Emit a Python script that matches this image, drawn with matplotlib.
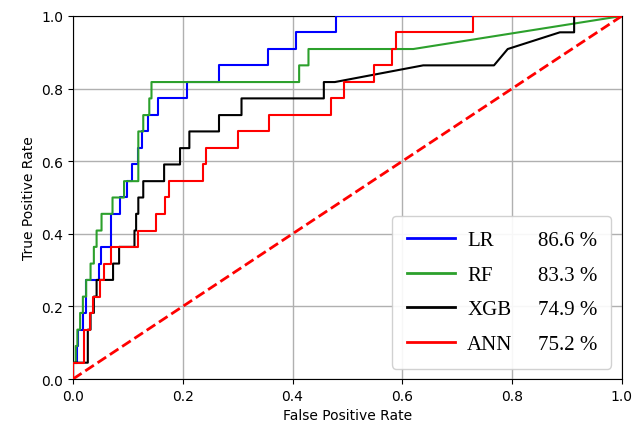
import matplotlib
matplotlib.use("Agg")
import matplotlib.pyplot as plt
from matplotlib.lines import Line2D

# ── ROC data ────────────────────────────────────────────────────────────────

models = ["LR", "RF", "XGB", "ANN"]
auc_labels = ["86.6 %", "83.3 %", "74.9 %", "75.2 %"]
colors = ["#0000ff", "#2ca02c", "#000000", "#ff0000"]

fpr_lr = [0, 0, 0.007, 0.007, 0.010, 0.010, 0.018, 0.018, 0.023, 0.023,
          0.048, 0.048, 0.051, 0.051, 0.070, 0.070, 0.086, 0.086, 0.098, 0.098,
          0.107, 0.107, 0.119, 0.119, 0.125, 0.125, 0.137, 0.137, 0.155, 0.155,
          0.208, 0.208, 0.266, 0.266, 0.356, 0.356, 0.406, 0.406, 0.480, 0.480, 1.0]
tpr_lr = [0, 0.045, 0.045, 0.091, 0.091, 0.136, 0.136, 0.182, 0.182, 0.273,
          0.273, 0.318, 0.318, 0.364, 0.364, 0.455, 0.455, 0.5, 0.5, 0.545,
          0.545, 0.591, 0.591, 0.636, 0.636, 0.682, 0.682, 0.727, 0.727, 0.773,
          0.773, 0.818, 0.818, 0.864, 0.864, 0.909, 0.909, 0.955, 0.955, 1.0, 1.0]

fpr_rf = [0, 0, 0.005, 0.005, 0.008, 0.008, 0.013, 0.013, 0.018, 0.018,
          0.024, 0.024, 0.032, 0.032, 0.038, 0.038, 0.043, 0.043, 0.052, 0.052,
          0.072, 0.072, 0.093, 0.093, 0.119, 0.119, 0.128, 0.128, 0.139, 0.139,
          0.143, 0.143, 0.412, 0.412, 0.429, 0.429, 0.620, 1.0]
tpr_rf = [0, 0.045, 0.045, 0.091, 0.091, 0.136, 0.136, 0.182, 0.182, 0.227,
          0.227, 0.273, 0.273, 0.318, 0.318, 0.364, 0.364, 0.409, 0.409, 0.455,
          0.455, 0.5, 0.5, 0.545, 0.545, 0.682, 0.682, 0.727, 0.727, 0.773,
          0.773, 0.818, 0.818, 0.864, 0.864, 0.909, 0.909, 1.0]

fpr_xgb = [0, 0, 0.027, 0.027, 0.032, 0.032, 0.038, 0.038, 0.043, 0.043,
           0.073, 0.073, 0.084, 0.084, 0.112, 0.112, 0.115, 0.115, 0.119, 0.119,
           0.128, 0.128, 0.166, 0.166, 0.195, 0.195, 0.212, 0.212, 0.266, 0.266,
           0.307, 0.307, 0.457, 0.457, 0.477, 0.638, 0.767, 0.792, 0.887, 0.913,
           0.913, 1.0]
tpr_xgb = [0, 0.045, 0.045, 0.136, 0.136, 0.182, 0.182, 0.227, 0.227, 0.273,
           0.273, 0.318, 0.318, 0.364, 0.364, 0.409, 0.409, 0.455, 0.455, 0.5,
           0.5, 0.545, 0.545, 0.591, 0.591, 0.636, 0.636, 0.682, 0.682, 0.727,
           0.727, 0.773, 0.773, 0.818, 0.818, 0.864, 0.864, 0.909, 0.955, 0.955,
           1.0, 1.0]

fpr_ann = [0, 0, 0.020, 0.020, 0.031, 0.031, 0.036, 0.036, 0.049, 0.049,
           0.057, 0.057, 0.069, 0.069, 0.118, 0.118, 0.152, 0.152, 0.168, 0.168,
           0.174, 0.174, 0.236, 0.236, 0.243, 0.243, 0.300, 0.300, 0.358, 0.358,
           0.470, 0.470, 0.494, 0.494, 0.549, 0.549, 0.582, 0.582, 0.589, 0.589,
           0.729, 0.729, 1.0]
tpr_ann = [0, 0.045, 0.045, 0.136, 0.136, 0.182, 0.182, 0.227, 0.227, 0.273,
           0.273, 0.318, 0.318, 0.364, 0.364, 0.409, 0.409, 0.455, 0.455, 0.5,
           0.5, 0.545, 0.545, 0.591, 0.591, 0.636, 0.636, 0.682, 0.682, 0.727,
           0.727, 0.773, 0.773, 0.818, 0.818, 0.864, 0.864, 0.909, 0.909, 0.955,
           0.955, 1.0, 1.0]

chance = [0.0, 1.0]
ticks = [0.0, 0.2, 0.4, 0.6, 0.8, 1.0]

curves = [(fpr_lr, tpr_lr), (fpr_rf, tpr_rf), (fpr_xgb, tpr_xgb), (fpr_ann, tpr_ann)]

# ── Figure ──────────────────────────────────────────────────────────────────

fig = plt.figure(figsize=(6.32, 4.31), dpi=100)
ax = fig.add_axes([0.1155, 0.1183, 0.8685, 0.8423])

ax.grid(True, color="#b0b0b0", linewidth=1.0, zorder=0)
ax.set_axisbelow(True)

for (fpr, tpr), color in zip(curves, colors):
    ax.plot(fpr, tpr, color=color, linewidth=1.5, zorder=3)

ax.plot(chance, chance, color="#ff0000", linestyle="--", linewidth=2.0, zorder=4)

ax.set_xlim(0, 1)
ax.set_ylim(0, 1)
ax.set_xticks(ticks)
ax.set_yticks(ticks)
ax.tick_params(labelsize=10)
ax.set_xlabel("False Positive Rate", fontsize=10)
ax.set_ylabel("True Positive Rate", fontsize=10)

# legend: model names in one column, AUC values in a second one
handles = [Line2D([], [], color=c, linewidth=2.0) for c in colors]
blanks = [Line2D([], [], color="none") for _ in colors]
leg = ax.legend(
    handles + blanks,
    models + auc_labels,
    ncol=2,
    loc="lower right",
    prop={"family": "Liberation Serif", "size": 15},
    handlelength=2.3,
    handletextpad=0.6,
    columnspacing=-1.7,
    borderpad=0.7,
    labelspacing=0.72,
    framealpha=0.9,
)
leg.set_zorder(5)

fig.savefig("out.png", dpi=100)
